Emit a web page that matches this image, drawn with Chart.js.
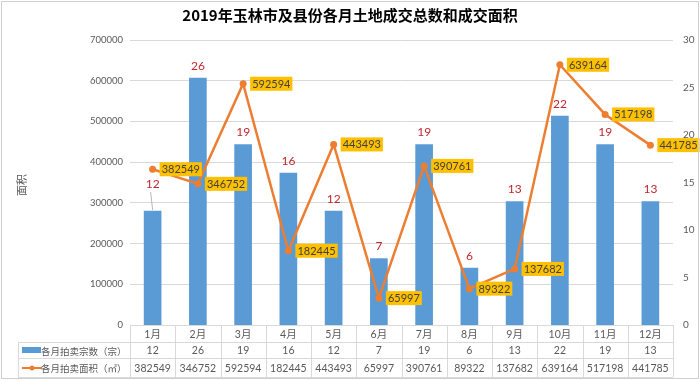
<!DOCTYPE html>
<html>
<head>
<meta charset="utf-8">
<script src="https://cdn.jsdelivr.net/npm/chart.js@4.4.1/dist/chart.umd.min.js"></script>
<style>
  html, body { margin: 0; padding: 0; background: #fff; }
  #wrap { width: 700px; height: 380px; }
</style>
</head>
<body>
<div id="wrap"><canvas id="grafico" width="700" height="380"></canvas></div>
<script>
const meses = ['1月', '2月', '3月', '4月', '5月', '6月', '7月', '8月', '9月', '10月', '11月', '12月'];
const qtdLeiloes = [12, 26, 19, 16, 12, 7, 19, 6, 13, 22, 19, 13];
const areaLeiloes = [382549, 346752, 592594, 182445, 443493, 65997, 390761, 89322, 137682, 639164, 517198, 441785];
const nomeQtd = '各月拍卖宗数（宗）';
const nomeArea = '各月拍卖面积（㎡）';
const titulo = '2019年玉林市及县份各月土地成交总数和成交面积';
const tituloEixo = '面积';

const AZUL = '#5B9BD5';
const LARANJA = '#ED7D31';
const AMARELO = '#FFC000';
const CINZA = '#595959';
const GRADE = '#d9d9d9';
const FONTE_NUM = 'Lato, "Noto Sans CJK SC", sans-serif';
const FONTE_CJK = '"Noto Sans CJK SC", sans-serif';

// rotulos, tabela de dados e moldura
const extras = {
    id: 'extras',
    afterDatasetsDraw(chart) {
        const ctx = chart.ctx;

        // rotulos das barras
        const metaBar = chart.getDatasetMeta(0);
        ctx.save();
        ctx.font = '12px ' + FONTE_NUM;
        ctx.fillStyle = '#C0282D';
        ctx.textAlign = 'center';
        ctx.textBaseline = 'middle';
        metaBar.data.forEach((el, i) => {
            let y = el.y - 12;
            if (i === 0) {
                y = el.y - 27;
                ctx.strokeStyle = '#a6a6a6';
                ctx.lineWidth = 0.8;
                ctx.beginPath();
                ctx.moveTo(el.x - 2, y + 8);
                ctx.lineTo(el.x, el.y - 1);
                ctx.stroke();
            }
            ctx.fillText(String(qtdLeiloes[i]), el.x, y);
        });
        ctx.restore();

        // rotulos da linha
        const metaLinha = chart.getDatasetMeta(1);
        ctx.save();
        ctx.font = '11px ' + FONTE_NUM;
        ctx.textAlign = 'left';
        ctx.textBaseline = 'middle';
        metaLinha.data.forEach((el, i) => {
            const txt = String(areaLeiloes[i]);
            const w = ctx.measureText(txt).width + 4;
            const x0 = el.x + 7;
            ctx.fillStyle = AMARELO;
            ctx.fillRect(x0, el.y - 7, w, 14);
            ctx.fillStyle = '#404040';
            ctx.fillText(txt, x0 + 2, el.y + 0.5);
        });
        ctx.restore();
    },
    afterDraw(chart) {
        const ctx = chart.ctx;
        const area = chart.chartArea;
        const esq = area.left;
        const dir = area.right;
        const larg = (dir - esq) / meses.length;
        const y0 = area.bottom, y1 = y0 + 17, y2 = y1 + 16, y3 = y2 + 19;
        const legEsq = 18;

        ctx.save();
        ctx.strokeStyle = GRADE;
        ctx.lineWidth = 1;
        ctx.beginPath();
        ctx.moveTo(esq, y0 + 0.5); ctx.lineTo(dir, y0 + 0.5);
        [y1, y2, y3].forEach(y => { ctx.moveTo(legEsq, y + 0.5); ctx.lineTo(dir, y + 0.5); });
        for (let i = 0; i <= meses.length; i++) {
            const x = Math.round(esq + i * larg) + 0.5;
            ctx.moveTo(x, y0); ctx.lineTo(x, y3);
        }
        ctx.moveTo(legEsq + 0.5, y1); ctx.lineTo(legEsq + 0.5, y3);
        ctx.stroke();

        ctx.textAlign = 'center';
        ctx.textBaseline = 'middle';
        ctx.fillStyle = CINZA;
        ctx.font = '10.5px ' + FONTE_NUM;
        meses.forEach((m, i) => {
            const cx = esq + (i + 0.5) * larg;
            ctx.fillText(m, cx, (y0 + y1) / 2 + 1);
            ctx.fillText(String(qtdLeiloes[i]), cx, (y1 + y2) / 2 + 1);
            ctx.fillText(String(areaLeiloes[i]), cx, (y2 + y3) / 2 + 1);
        });

        // legenda da tabela
        ctx.fillStyle = AZUL;
        ctx.fillRect(22, (y1 + y2) / 2 - 3, 19, 6);
        ctx.strokeStyle = LARANJA;
        ctx.lineWidth = 2;
        ctx.beginPath();
        ctx.moveTo(22, (y2 + y3) / 2 + 0.5); ctx.lineTo(42, (y2 + y3) / 2 + 0.5);
        ctx.stroke();
        ctx.fillStyle = LARANJA;
        ctx.beginPath();
        ctx.arc(32, (y2 + y3) / 2 + 0.5, 2.5, 0, Math.PI * 2);
        ctx.fill();
        ctx.fillStyle = CINZA;
        ctx.textAlign = 'left';
        ctx.font = '9.5px ' + FONTE_CJK;
        ctx.fillText(nomeQtd, 41, (y1 + y2) / 2 + 1);
        ctx.fillText(nomeArea, 41, (y2 + y3) / 2 + 1);

        // titulo do eixo
        ctx.save();
        ctx.translate(22, 185);
        ctx.rotate(-Math.PI / 2);
        ctx.textAlign = 'center';
        ctx.font = '11px ' + FONTE_CJK;
        ctx.fillText(tituloEixo, 0, 0);
        ctx.restore();

        // moldura
        ctx.strokeStyle = '#d0d0d0';
        ctx.lineWidth = 1;
        ctx.strokeRect(1.5, 1.5, 697, 377);
        ctx.restore();
    }
};

new Chart(document.getElementById('grafico'), {
    data: {
        labels: meses,
        datasets: [{
            type: 'bar',
            label: nomeQtd,
            data: qtdLeiloes,
            backgroundColor: AZUL,
            barThickness: 17,
            yAxisID: 'y1',
            order: 2
        }, {
            type: 'line',
            label: nomeArea,
            data: areaLeiloes,
            borderColor: LARANJA,
            backgroundColor: LARANJA,
            borderWidth: 2.5,
            pointRadius: 3.5,
            pointBackgroundColor: LARANJA,
            pointBorderWidth: 0,
            tension: 0,
            yAxisID: 'y',
            order: 1
        }]
    },
    options: {
        responsive: false,
        animation: false,
        layout: { padding: { left: 0, right: 0, top: 0, bottom: 55 } },
        plugins: {
            legend: { display: false },
            tooltip: { enabled: false },
            title: {
                display: true,
                text: titulo,
                color: '#000',
                font: { size: 15, weight: 'bold', family: FONTE_CJK },
                padding: { top: 6, bottom: 16 }
            }
        },
        scales: {
            x: {
                ticks: { display: false },
                grid: { display: false, drawTicks: false },
                border: { display: false },
                afterFit(s) { s.height = 0; }
            },
            y: {
                position: 'left',
                min: 0,
                max: 700000,
                ticks: {
                    stepSize: 100000,
                    color: CINZA,
                    font: { size: 9.5, family: FONTE_NUM },
                    padding: 7,
                    callback: v => String(v)
                },
                grid: { color: GRADE, drawTicks: false },
                border: { display: false },
                afterFit(s) { s.width = 130; }
            },
            y1: {
                position: 'right',
                min: 0,
                max: 30,
                ticks: {
                    stepSize: 5,
                    color: CINZA,
                    font: { size: 10, family: FONTE_NUM },
                    padding: 10
                },
                grid: { display: false, drawTicks: false },
                border: { display: false },
                afterFit(s) { s.width = 27; }
            }
        }
    },
    plugins: [extras]
});
</script>
</body>
</html>
